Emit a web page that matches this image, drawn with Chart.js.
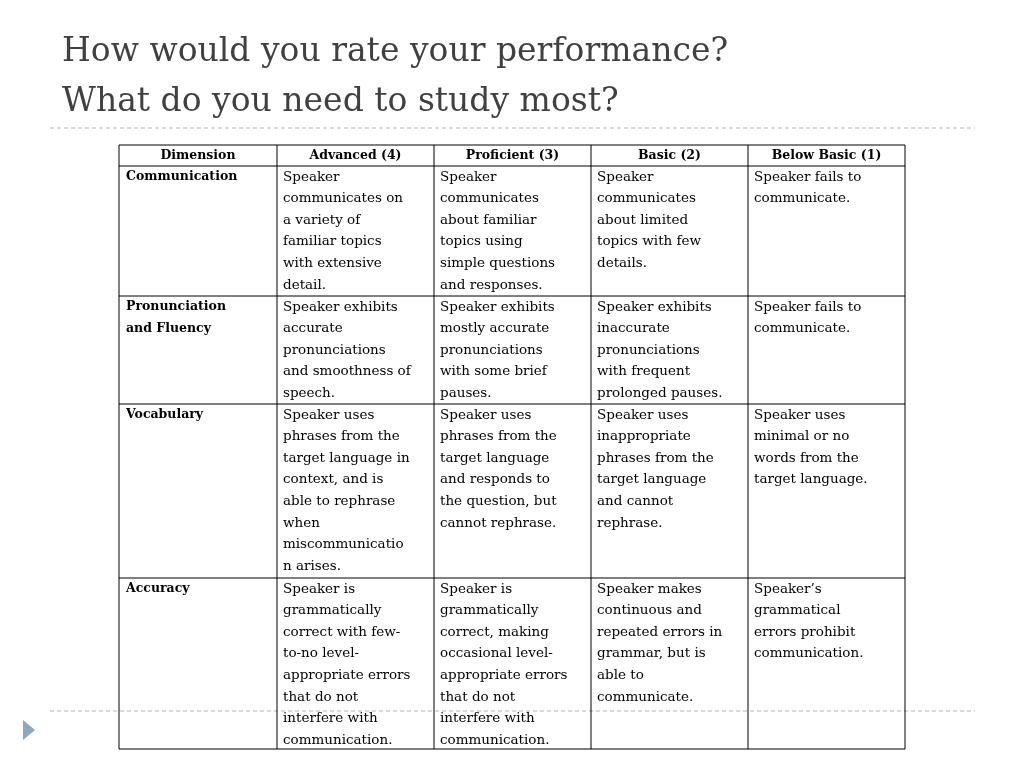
<!DOCTYPE html>
<html>
<head>
<meta charset="utf-8">
<script src="https://cdn.jsdelivr.net/npm/chart.js@4"></script>
<style>
  body { margin: 0; background: #fff; }
  canvas { display: block; }
</style>
</head>
<body>
<canvas id="slide" width="1024" height="768"></canvas>
<script>
// Slide text
const titleLines = ["How would you rate your performance?", "What do you need to study most?"];
const headers = ["Dimension", "Advanced (4)", "Proficient (3)", "Basic (2)", "Below Basic (1)"];
const dimensions = [["Communication"], ["Pronunciation", "and Fluency"], ["Vocabulary"], ["Accuracy"]];

// cell text per row, one array per level, line breaks as on the slide
const communication = [
  ["Speaker", "communicates on", "a variety of", "familiar topics", "with extensive", "detail."],
  ["Speaker", "communicates", "about familiar", "topics using", "simple questions", "and responses."],
  ["Speaker", "communicates", "about limited", "topics with few", "details."],
  ["Speaker fails to", "communicate."]
];
const pronunciation = [
  ["Speaker exhibits", "accurate", "pronunciations", "and smoothness of", "speech."],
  ["Speaker exhibits", "mostly accurate", "pronunciations", "with some brief", "pauses."],
  ["Speaker exhibits", "inaccurate", "pronunciations", "with frequent", "prolonged pauses."],
  ["Speaker fails to", "communicate."]
];
const vocabulary = [
  ["Speaker uses", "phrases from the", "target language in", "context, and is", "able to rephrase", "when", "miscommunicatio", "n arises."],
  ["Speaker uses", "phrases from the", "target language", "and responds to", "the question, but", "cannot rephrase."],
  ["Speaker uses", "inappropriate", "phrases from the", "target language", "and cannot", "rephrase."],
  ["Speaker uses", "minimal or no", "words from the", "target language."]
];
const accuracy = [
  ["Speaker is", "grammatically", "correct with few-", "to-no level-", "appropriate errors", "that do not", "interfere with", "communication."],
  ["Speaker is", "grammatically", "correct, making", "occasional level-", "appropriate errors", "that do not", "interfere with", "communication."],
  ["Speaker makes", "continuous and", "repeated errors in", "grammar, but is", "able to", "communicate."],
  ["Speaker\u2019s", "grammatical", "errors prohibit", "communication."]
];
const rows = [communication, pronunciation, vocabulary, accuracy];

// layout (slide pixel units)
const colEdges = [119, 277, 434, 591, 748, 905];
const rowEdges = [145, 166, 296, 404, 578, 749];
const lineStep = 21.6;

const tablePlugin = {
  id: "table",
  afterDraw(chart) {
    const c = chart.ctx;
    const X = v => chart.scales.x.getPixelForValue(v);
    const Y = v => chart.scales.y.getPixelForValue(v);
    c.save();

    // title
    c.fillStyle = "#404040";
    c.font = "33px 'DejaVu Serif'";
    c.textBaseline = "alphabetic";
    c.fillText(titleLines[0], X(62), Y(61));
    c.fillText(titleLines[1], X(62), Y(111));

    // dashed rules
    c.strokeStyle = "#a9b8c8";
    c.lineWidth = 1.2;
    c.setLineDash([4, 3]);
    [128, 711].forEach(y => {
      c.beginPath(); c.moveTo(X(50), Y(y)); c.lineTo(X(975), Y(y)); c.stroke();
    });
    c.setLineDash([]);

    // bullet triangle
    c.fillStyle = "#8fa6bf";
    c.beginPath(); c.moveTo(X(23), Y(720)); c.lineTo(X(35), Y(730)); c.lineTo(X(23), Y(740)); c.closePath(); c.fill();

    // grid
    c.strokeStyle = "#000";
    c.lineWidth = 1;
    colEdges.forEach(x => { c.beginPath(); c.moveTo(X(x), Y(rowEdges[0])); c.lineTo(X(x), Y(rowEdges[rowEdges.length - 1])); c.stroke(); });
    rowEdges.forEach(y => { c.beginPath(); c.moveTo(X(colEdges[0]), Y(y)); c.lineTo(X(colEdges[colEdges.length - 1]), Y(y)); c.stroke(); });

    // header
    c.fillStyle = "#000";
    c.textBaseline = "middle";
    c.textAlign = "center";
    c.font = "bold 12.5px 'DejaVu Serif'";
    headers.forEach((h, i) => c.fillText(h, X((colEdges[i] + colEdges[i + 1]) / 2), Y(156)));

    // body
    c.textAlign = "left";
    rows.forEach((cells, r) => {
      const top = rowEdges[r + 1];
      c.font = "bold 12.5px 'DejaVu Serif'";
      dimensions[r].forEach((t, k) => c.fillText(t, X(colEdges[0] + 7), Y(top + 11 + k * lineStep)));
      c.font = "13.5px 'DejaVu Serif'";
      cells.forEach((lines, i) => {
        lines.forEach((t, k) => c.fillText(t, X(colEdges[i + 1] + 6), Y(top + 11 + k * lineStep)));
      });
    });
    c.restore();
  }
};

new Chart(document.getElementById("slide"), {
  type: "scatter",
  data: { datasets: [{ data: [] }] },
  options: {
    responsive: false,
    animation: false,
    layout: { padding: 0 },
    plugins: { legend: { display: false }, tooltip: { enabled: false } },
    scales: {
      x: { type: "linear", min: 0, max: 1024, display: false },
      y: { type: "linear", min: 0, max: 768, reverse: true, display: false }
    }
  },
  plugins: [tablePlugin]
});
</script>
</body>
</html>
